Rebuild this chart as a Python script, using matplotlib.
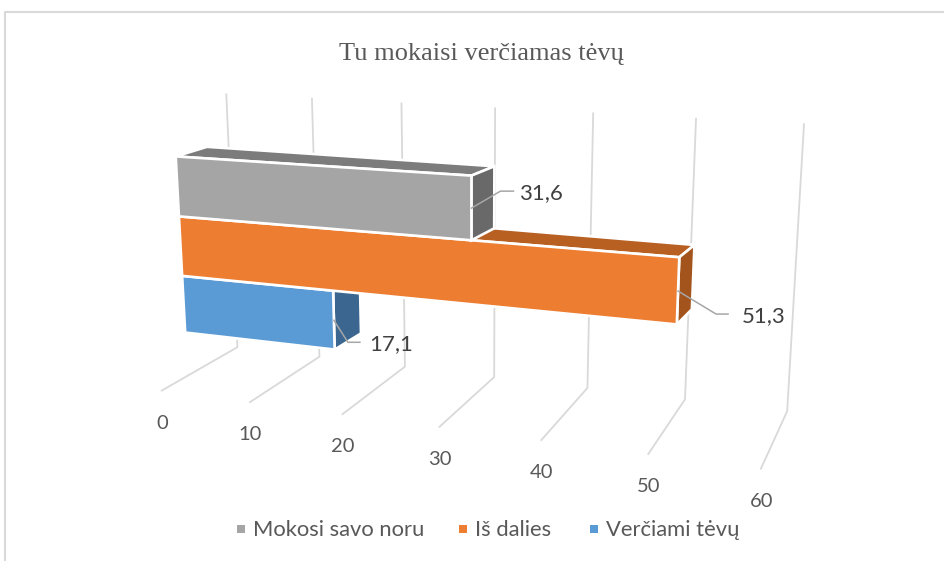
import numpy as np
import matplotlib
matplotlib.use('Agg')
import matplotlib.pyplot as plt

title = 'Tu mokaisi verčiamas tėvų'
ticks = [0, 10, 20, 30, 40, 50, 60]
series = ['Mokosi savo noru', 'Iš dalies', 'Verčiami tėvų']
values = [31.6, 51.3, 17.1]
value_labels = ['31,6', '51,3', '17,1']
front_colors = ['#A5A5A5', '#ED7D31', '#5B9BD5']
top_colors = ['#7C7C7C', '#B85F22', '#44729D']
side_colors = ['#696969', '#A3541C', '#3A6690']

# where the ends of each gridline fall on the reference, used to fit the camera
wall_top = [(226, 94), (312, 99), (402, 104), (495, 108), (593, 113), (696, 119), (804, 124)]
wall_bottom = [(237.7, 346.7), (319.3, 356.7), (405, 366.7), (494, 377.3), (587.3, 387.7), (685, 399.3), (787.3, 411.7)]
floor_front = [(161.7, 390.7), (250, 402.3), (342.7, 414), (439.3, 427.3), (541.3, 440), (648.3, 453.7), (761, 468.3)]

# height bands of the bars on the wall, and their depth on the floor
bands = [(0.606, 0.825), (0.384, 0.606), (0.168, 0.384)]
depth_front = 0.32
depth_back = 0.714


def fit_camera():
    rows = []
    for i, v in enumerate(ticks):
        for (px, py), d, h in ((wall_top[i], 1, 1), (wall_bottom[i], 1, 0), (floor_front[i], 0, 0)):
            X = [v, d, h, 1]
            rows.append(X + [0, 0, 0, 0] + [-px * a for a in X])
            rows.append([0, 0, 0, 0] + X + [-py * a for a in X])
    u, s, vt = np.linalg.svd(np.array(rows, dtype=float))
    return vt[-1].reshape(3, 4)


P = fit_camera()


def project(v, d, h):
    p = P @ np.array([v, d, h, 1.0])
    return p[0] / p[2], p[1] / p[2]


# the bars don't sit quite square to the grid in the reference, so they drift a bit with value
def front_point(v, h):
    return project(v, depth_front - 0.0012 * v, h + 0.00025 * v)


def back_point(v, h):
    return project(v, depth_back - 0.0006 * v, h)


fig = plt.figure(figsize=(9.45, 5.61), dpi=100)
ax = fig.add_axes([0, 0, 1, 1])
ax.set_xlim(0, 945)
ax.set_ylim(561, 0)
ax.axis('off')

# chart frame
ax.plot([5, 5, 945], [561, 12, 12], color='#D9D9D9', lw=1.5, zorder=1)

ax.text(481, 54, title, family='Liberation Serif', fontsize=19, color='#595959', ha='center', va='center')

# gridlines, wall then floor
for v in ticks:
    pts = [project(v, 1, 1), project(v, 1, 0), project(v, 0, 0)]
    ax.plot([p[0] for p in pts], [p[1] for p in pts], color='#D9D9D9', lw=1.3, zorder=2)
    x, y = project(v, 0, 0)
    ax.text(x + 0.5, y + 32.5, str(v), family='Lato', fontsize=14.5, color='#595959', ha='center', va='center', zorder=5)

# lowest bar first so the bars above cover its top face
for i in [2, 1, 0]:
    v = values[i]
    lo, hi = bands[i]
    a = front_point(0, hi)
    b = front_point(v, hi)
    c = front_point(v, lo)
    d = front_point(0, lo)
    e = back_point(0, hi)
    f = back_point(v, hi)
    g = back_point(v, lo)
    for face, col in (([a, b, f, e], top_colors[i]), ([b, f, g, c], side_colors[i]), ([a, b, c, d], front_colors[i])):
        ax.fill([p[0] for p in face], [p[1] for p in face], facecolor=col, edgecolor='white', lw=1.9,
                joinstyle='miter', zorder=3 + 0.1 * (2 - i))

# data labels with their leader lines: elbow dx, elbow dy, end dx, text dx
leaders = [(29, -17, 42, 48), (38, 23, 50, 64), (14, 22, 26, 35)]
for i in range(3):
    lo, hi = bands[i]
    x, y = front_point(values[i], (lo + hi) / 2)
    ex, ey, end, tx = leaders[i]
    ax.plot([x, x + ex, x + end], [y, y + ey, y + ey], color='#A6A6A6', lw=1.1, zorder=4)
    ax.text(x + tx, y + ey + 2, value_labels[i], family='Lato', fontsize=16, color='#404040', ha='left', va='center', zorder=5)

# legend
legend_x = [241, 463, 594]
for i in range(3):
    ax.scatter([legend_x[i]], [529], marker='s', s=30, color=front_colors[i], linewidths=0, zorder=5)
    ax.text(legend_x[i] + 12, 530, series[i], family='Lato', fontsize=15.8, color='#595959', ha='left', va='center', zorder=5)

fig.savefig('out.png', dpi=100)
